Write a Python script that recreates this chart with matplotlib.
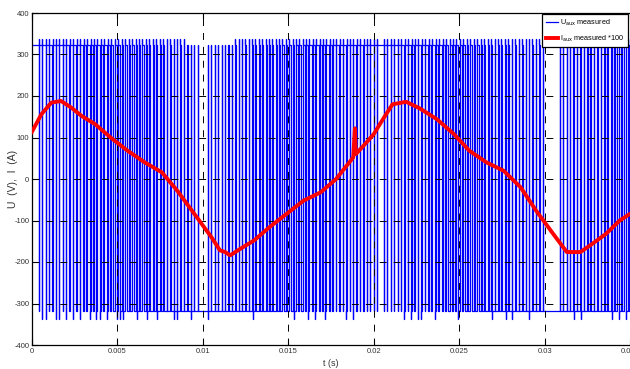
import numpy as np
import matplotlib
matplotlib.use("Agg")
import matplotlib.pyplot as plt

plt.rcParams['font.family'] = ['Liberation Sans Narrow', 'Liberation Sans', 'DejaVu Sans']
plt.rcParams['axes.unicode_minus'] = False
plt.rcParams['mathtext.fontset'] = 'custom'
plt.rcParams['mathtext.rm'] = 'Liberation Sans Narrow'
plt.rcParams['lines.scale_dashes'] = False

# ---------------- data ----------------
# measured current (x100), time in ms
red_t = [0.0, 0.55, 1.13, 1.7, 2.3, 2.9, 3.7, 4.6, 5.6, 6.6, 7.6, 8.5, 9.5, 10.5,
         11.0, 11.3, 11.6, 12.2, 13.0, 13.9, 14.9, 15.9, 16.9, 17.8, 18.8, 18.9,
         18.95, 19.4, 20.0, 20.6, 21.1, 21.9, 22.7, 23.7, 24.7, 25.6, 26.6, 27.6,
         28.6, 29.5, 30.5, 31.3, 32.1, 32.8, 33.6, 34.4, 35.0]
red_v = [114, 156, 184, 188, 172, 152, 132, 100, 68, 40, 16, -28, -84, -140,
         -172, -176, -184, -168, -148, -116, -84, -52, -32, 0, 52, 122,
         60, 80, 108, 148, 180, 186, 170, 144, 108, 68, 40, 20,
         -20, -76, -132, -176, -176, -156, -132, -100, -84]

# measured voltage: duty (fraction of each switching period at the high level)
sw_period_ms = 0.2
duty = [1.00, 1.00, 0.95, 0.95, 0.94, 0.94, 0.93, 0.92, 0.91, 0.89,
        0.88, 0.86, 0.85, 0.83, 0.81, 0.79, 0.76, 0.74, 0.72, 0.69,
        0.67, 0.64, 0.61, 0.58, 0.56, 0.53, 0.50, 0.47, 0.44, 0.42,
        0.39, 0.36, 0.33, 0.31, 0.28, 0.26, 0.24, 0.21, 0.19, 0.17,
        0.15, 0.14, 0.12, 0.11, 0.09, 0.08, 0.07, 0.06, 0.06, 0.00,
        0.00, 0.05, 0.05, 0.05, 0.06, 0.06, 0.07, 0.08, 0.09, 0.11,
        0.12, 0.14, 0.15, 0.17, 0.19, 0.21, 0.24, 0.26, 0.28, 0.31,
        0.33, 0.36, 0.39, 0.42, 0.44, 0.47, 0.50, 0.53, 0.56, 0.58,
        0.61, 0.64, 0.67, 0.69, 0.72, 0.74, 0.76, 0.79, 0.81, 0.83,
        0.85, 0.86, 0.88, 0.89, 0.91, 0.92, 0.93, 0.94, 0.94, 0.95,
        0.95, 1.00, 1.00, 0.95, 0.94, 0.94, 0.93, 0.92, 0.91, 0.89,
        0.88, 0.86, 0.85, 0.83, 0.81, 0.79, 0.76, 0.74, 0.72, 0.69,
        0.67, 0.64, 0.61, 0.58, 0.56, 0.53, 0.50, 0.47, 0.44, 0.42,
        0.39, 0.36, 0.33, 0.31, 0.28, 0.26, 0.24, 0.21, 0.19, 0.17,
        0.15, 0.14, 0.12, 0.11, 0.09, 0.08, 0.07, 0.06, 0.06, 0.05,
        0.00, 0.00, 0.00, 0.00, 0.06, 0.06, 0.07, 0.08, 0.09, 0.11,
        0.12, 0.14, 0.15, 0.17, 0.19, 0.21, 0.24, 0.26, 0.28, 0.31,
        0.33, 0.36, 0.39, 0.42, 0.44]
u_high = 323
u_low = -318
u_top_spike = 338
u_bot_spike = -338
top_spike_free = (9.0, 11.8)          # ms interval without overshoot on top
bot_spike_times = [0.57, 0.86, 1.40, 1.64, 2.03, 2.33, 2.71, 3.39, 3.69, 3.98, 4.37,
                   4.86, 5.03, 5.15, 5.44, 6.13, 6.71, 7.38, 8.25, 8.47, 9.25, 10.1,
                   12.9, 15.3, 16.1, 16.5, 17.2, 18.3, 18.8, 21.8, 22.1, 22.5, 22.7,
                   23.5, 25.0, 27.0, 27.8, 28.2, 29.1, 31.7, 32.2, 34.0, 34.4, 34.8]

xticks = [0, 0.005, 0.01, 0.015, 0.02, 0.025, 0.03, 0.035]
xticklabels = ['0', '0.005', '0.01', '0.015', '0.02', '0.025', '0.03', '0.035']
yticks = [-400, -300, -200, -100, 0, 100, 200, 300, 400]

# ---------------- build voltage trace from the duty list ----------------
segs = []  # (start_ms, end_ms, state)
for k, d in enumerate(duty):
    t0 = k * sw_period_ms
    if d >= 1.0:
        segs.append((t0, t0 + sw_period_ms, 1))
    elif d <= 0.0:
        segs.append((t0, t0 + sw_period_ms, 0))
    else:
        tr = t0 + sw_period_ms * (1 - d) / 2
        tf = t0 + sw_period_ms * (1 + d) / 2
        segs += [(t0, tr, 0), (tr, tf, 1), (tf, t0 + sw_period_ms, 0)]

edges = []  # (time, new_state)
state = segs[0][2]
for s0, s1, st in segs:
    if st != state:
        edges.append((s0, st))
        state = st

fall_times = np.array([e[0] for e in edges if e[1] == 0])
spiky_falls = set()
for ts in bot_spike_times:
    spiky_falls.add(int(np.argmin(np.abs(fall_times - ts))))

ut, uv = [0.0], [u_high if segs[0][2] == 1 else u_low]
fi = 0
for te, st in edges:
    if st == 1:
        pk = u_high if top_spike_free[0] <= te <= top_spike_free[1] else u_top_spike
        ut += [te, te, te]
        uv += [u_low, pk, u_high]
    else:
        pk = u_bot_spike if fi in spiky_falls else u_low
        fi += 1
        ut += [te, te, te]
        uv += [u_high, pk, u_low]
ut.append(len(duty) * sw_period_ms)
uv.append(uv[-1])

ut = np.array(ut) / 1000.0
rt = np.array(red_t) / 1000.0

# ---------------- figure ----------------
fig = plt.figure(figsize=(6.30, 3.69), dpi=100)
ax = fig.add_axes([32 / 630, (369 - 345) / 369, 598 / 630, 332 / 369])

ax.plot(ut, uv, color=(0, 0, 1), lw=0.9, label=r'U$_{\rm aux}$ measured', zorder=2)
ax.plot(rt, red_v, color=(1, 0, 0), lw=2.8, label=r'I$_{\rm aux}$ measured *100', zorder=3)

ax.set_xlim(0, 0.035)
ax.set_ylim(-400, 400)
ax.set_xticks(xticks)
ax.set_xticklabels(xticklabels)
ax.set_yticks(yticks)
ax.set_yticklabels([str(v) for v in yticks])
ax.tick_params(direction='in', length=4, width=0.8, labelsize=5.5,
               labelcolor='#333333', top=True, right=False, pad=2)
ax.grid(True, color='black', linestyle=(0, (5, 5)), linewidth=0.7)
ax.set_axisbelow(False)
for sp in ['left', 'bottom', 'top']:
    ax.spines[sp].set_linewidth(0.9)
ax.spines['right'].set_visible(False)

ax.set_xlabel('t (s)', fontsize=6.5, color='#333333', labelpad=3)
ax.set_ylabel('U  (V),  I  (A)', fontsize=7.5, color='#333333')
ax.yaxis.set_label_coords(-0.024, 0.5)

leg = ax.legend(loc='upper right', bbox_to_anchor=(0.997, 0.997), borderaxespad=0,
                fontsize=5.2, frameon=True, fancybox=False, handlelength=1.7,
                handletextpad=0.3, borderpad=0.5, labelspacing=0.8)
leg.get_frame().set_edgecolor('black')
leg.get_frame().set_linewidth(0.9)
leg.get_frame().set_alpha(1)
leg.set_zorder(10)

fig.savefig('out.png', dpi=100)
